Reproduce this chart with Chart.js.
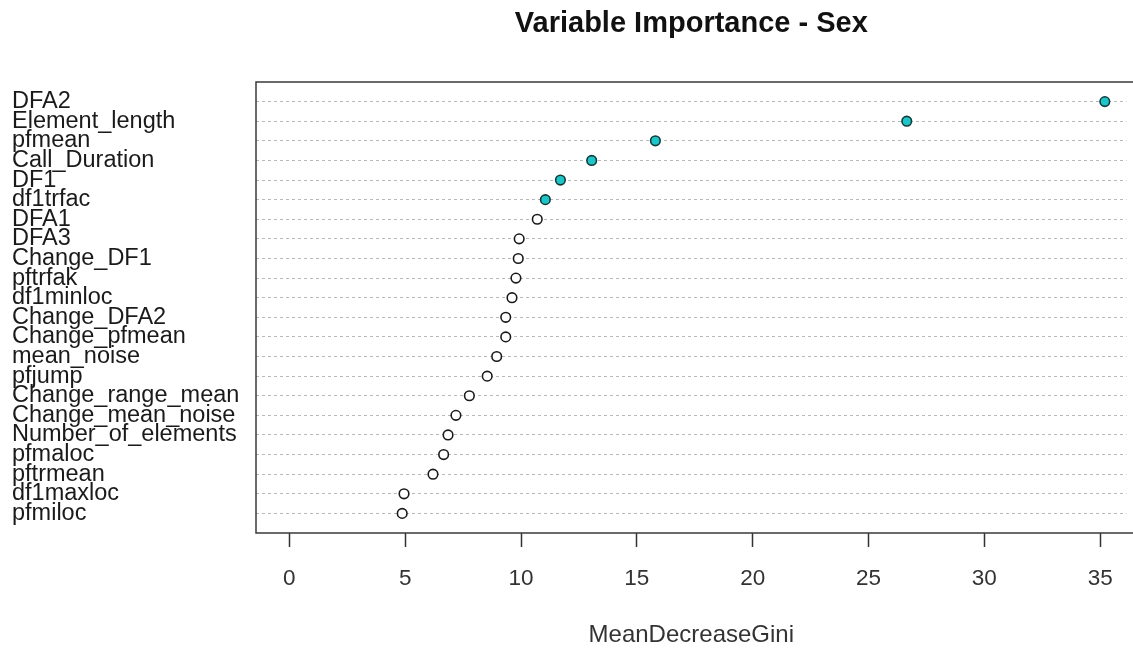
<!DOCTYPE html>
<html>
<head>
<meta charset="utf-8">
<title>Variable Importance - Sex</title>
<script src="https://cdn.jsdelivr.net/npm/chart.js@4.4.1/dist/chart.umd.min.js"></script>
<style>
  html, body { margin: 0; padding: 0; background: #fff; overflow: hidden; }
  #wrap { width: 1133px; height: 650px; }
</style>
</head>
<body>
<div id="wrap"><canvas id="importanceChart"></canvas></div>
<script>
// variables, top to bottom
const variables = [
  'DFA2', 'Element_length', 'pfmean', 'Call_Duration', 'DF1', 'df1trfac',
  'DFA1', 'DFA3', 'Change_DF1', 'pftrfak', 'df1minloc', 'Change_DFA2',
  'Change_pfmean', 'mean_noise', 'pfjump', 'Change_range_mean',
  'Change_mean_noise', 'Number_of_elements', 'pfmaloc', 'pftrmean',
  'df1maxloc', 'pfmiloc'
];

const meanDecreaseGini = [
  35.2, 26.65, 15.8, 13.05, 11.7, 11.05,
  10.7, 9.92, 9.88, 9.78, 9.61, 9.34,
  9.34, 8.95, 8.54, 7.77,
  7.19, 6.85, 6.66, 6.2,
  4.95, 4.87
];

// how many of the top variables get a filled marker
const highlightCount = 6;

const xTicks = [0, 5, 10, 15, 20, 25, 30, 35];

const fillColors = meanDecreaseGini.map((v, i) => i < highlightCount ? '#1fc4c8' : '#ffffff');
const edgeColors = meanDecreaseGini.map((v, i) => i < highlightCount ? '#123c3c' : '#1a1a1a');

// box round the plotting region (right side runs off the canvas)
const plotFrame = {
  id: 'plotFrame',
  afterDraw(chart) {
    const { ctx, chartArea: a, width } = chart;
    ctx.save();
    ctx.strokeStyle = '#3a3a3a';
    ctx.lineWidth = 1.5;
    ctx.beginPath();
    ctx.moveTo(width, a.top);
    ctx.lineTo(a.left, a.top);
    ctx.lineTo(a.left, a.bottom);
    ctx.lineTo(width, a.bottom);
    ctx.stroke();
    ctx.restore();
  }
};

const ctx = document.getElementById('importanceChart').getContext('2d');
const chart = new Chart(ctx, {
  type: 'scatter',
  data: {
    datasets: [{
      label: 'MeanDecreaseGini',
      data: meanDecreaseGini.map((v, i) => ({ x: v, y: i })),
      pointRadius: 4.8,
      pointHoverRadius: 4.8,
      pointBackgroundColor: fillColors,
      pointBorderColor: edgeColors,
      pointBorderWidth: 1.6
    }]
  },
  options: {
    responsive: true,
    maintainAspectRatio: false,
    animation: false,
    layout: { padding: { left: 12, right: 0, top: 0, bottom: 0 } },
    plugins: {
      legend: { display: false },
      tooltip: { enabled: false },
      title: {
        display: true,
        text: 'Variable Importance - Sex',
        fullSize: false,
        color: '#111',
        font: { family: 'Liberation Sans, Arial, sans-serif', size: 29, weight: 'bold' },
        padding: { top: 7, bottom: 40.2 }
      }
    },
    scales: {
      x: {
        type: 'linear',
        min: -1.44,
        max: 36.14,
        afterBuildTicks: scale => { scale.ticks = xTicks.map(v => ({ value: v })); },
        afterFit: scale => { scale.height = 117; },
        ticks: {
          color: '#333',
          padding: 18,
          font: { family: 'Liberation Sans, Arial, sans-serif', size: 22.5 }
        },
        grid: {
          drawOnChartArea: false,
          drawTicks: true,
          tickLength: 14,
          tickWidth: 1.5,
          tickColor: '#333'
        },
        border: { display: false },
        title: {
          display: true,
          text: 'MeanDecreaseGini',
          color: '#333',
          font: { family: 'Liberation Sans, Arial, sans-serif', size: 24 },
          padding: { top: 0, bottom: 0 }
        }
      },
      y: {
        type: 'linear',
        reverse: true,
        min: -1,
        max: 22,
        afterBuildTicks: scale => { scale.ticks = variables.map((n, i) => ({ value: i })); },
        afterFit: scale => { scale.width = 244; },
        ticks: {
          autoSkip: false,
          crossAlign: 'far',
          color: '#1a1a1a',
          font: { family: 'Liberation Sans, Arial, sans-serif', size: 23.5 },
          callback: value => variables[value]
        },
        grid: {
          drawTicks: false,
          color: '#b8b8b8',
          lineWidth: 1
        },
        border: { display: false, dash: [3, 3] }
      }
    }
  },
  plugins: [plotFrame]
});
</script>
</body>
</html>
